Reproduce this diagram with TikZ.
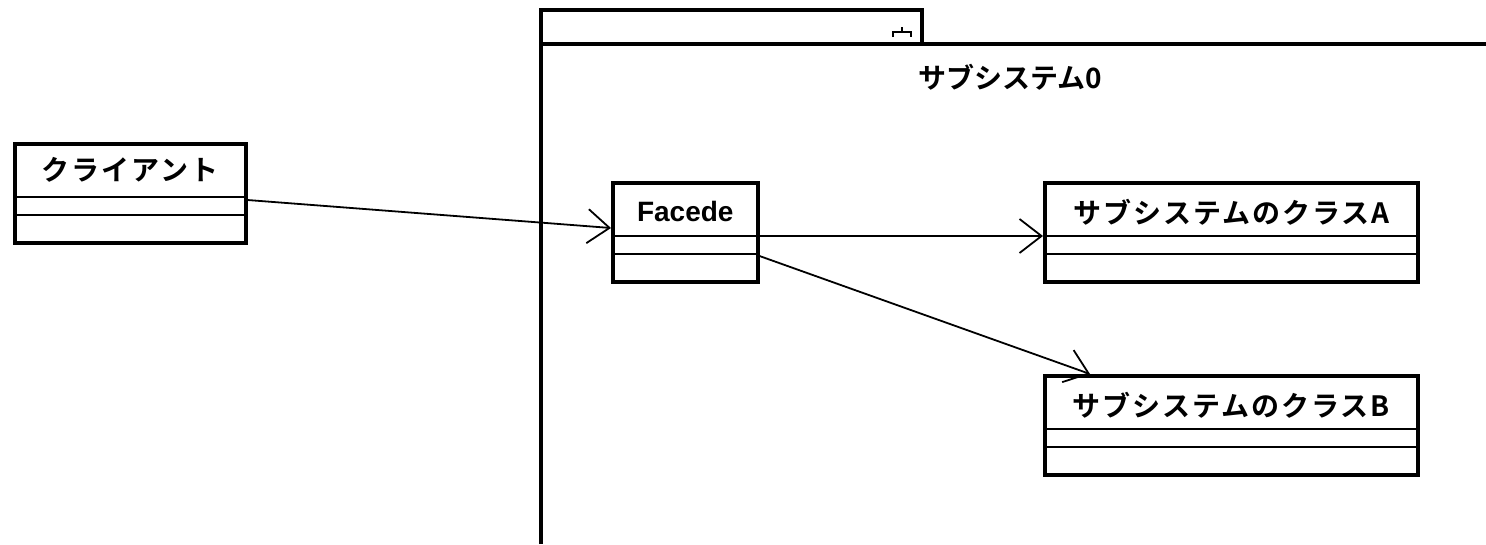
\documentclass[tikz,border=0pt]{standalone}
\usepackage{fontspec}
\setmainfont{Liberation Sans}
\newfontfamily\jp{Noto Sans CJK JP Bold}
\newfontfamily\jpwide{Noto Sans CJK JP Bold}[LetterSpace=7]
\usetikzlibrary{arrows.meta}
\tikzset{
  cls/.style={draw,line width=3.5pt,inner sep=0pt,minimum height=99pt,anchor=north west},
  sep/.style={line width=2pt},
  assoc/.style={line width=1.8pt,-{Straight Barb[length=22pt,width=34pt,line width=1.8pt]}},
  jpname/.style={font=\jpwide\fontsize{28pt}{32pt}\selectfont},
  pkgname/.style={font=\jp\fontsize{28pt}{32pt}\selectfont},
  enname/.style={font=\bfseries\fontsize{28pt}{32pt}\selectfont},
}
\begin{document}
\begin{tikzpicture}[x=1pt,y=-1pt]
  \useasboundingbox (0,0) rectangle (1486,544);
  \def\hn{55};
  \def\ha{73};
  \draw[line width=3.5pt,line join=miter] (541,544) -- (541,10) -- (922,10) -- (922,44);
  \draw[line width=3.5pt] (541,44) -- (1486,44);
  \draw[line width=1.5pt] (902,27) -- (902,32) (893,37) -- (893,32) -- (911,32) -- (911,37);
  \node[pkgname] (pkgtitle) at (1010,77) {サブシステム0};
  \node[cls,minimum width=231pt] (client) at (13,142) {};
  \node[cls,minimum width=145pt] (facede) at (611,181) {};
  \node[cls,minimum width=373pt] (clsA) at (1043,181) {};
  \node[cls,minimum width=373pt] (clsB) at (1043,374) {};
  \foreach \c in {client,facede,clsA,clsB} {
    \draw[sep] ([yshift=-\hn pt]\c.north west) -- ([yshift=-\hn pt]\c.north east);
    \draw[sep] ([yshift=-\ha pt]\c.north west) -- ([yshift=-\ha pt]\c.north east);
  }
  \node[jpname] (clientname) at ([yshift=-28pt]client.north) {クライアント};
  \node[enname] (facedename) at ([yshift=-30pt]facede.north) {Facede};
  \node[jpname] (clsAname) at ([yshift=-31pt]clsA.north) {サブシステムのクラスA};
  \node[jpname] (clsBname) at ([yshift=-31pt]clsB.north) {サブシステムのクラスB};
  \draw[assoc] ([yshift=-58pt]client.north east) -- ([yshift=-47pt]facede.north west);
  \draw[assoc] ([yshift=-\hn pt]facede.north east) -- ([yshift=-\hn pt]clsA.north west);
  \draw[assoc] ([yshift=-75pt]facede.north east) -- ([xshift=47pt]clsB.north west);
\end{tikzpicture}
\end{document}
